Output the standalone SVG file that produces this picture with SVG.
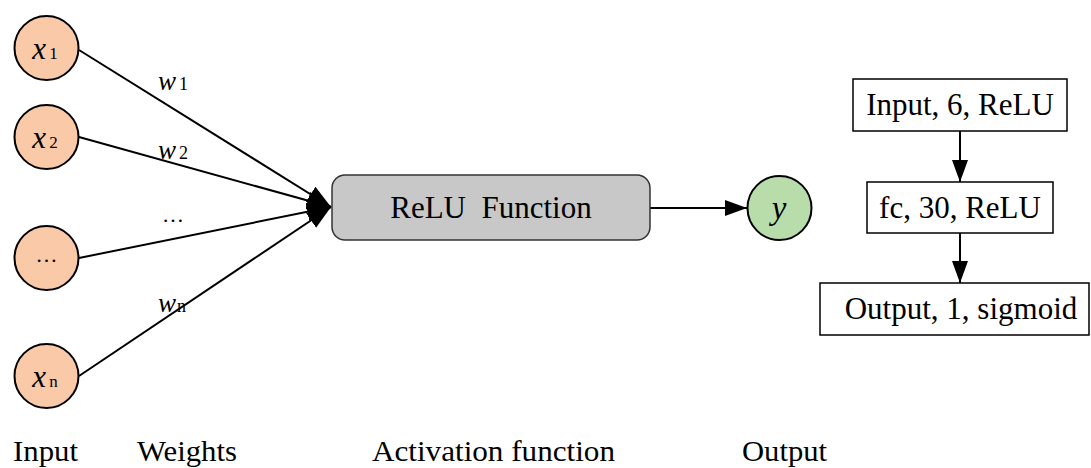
<svg xmlns="http://www.w3.org/2000/svg" width="1091" height="468" viewBox="0 0 1091 468">
<style>
.in{fill:#f9c9a8;stroke:#000;stroke-width:2}
.out{fill:#b8dcaa;stroke:#000;stroke-width:2}
.box{fill:#fff;stroke:#000;stroke-width:1.5}
.t{font-family:"Liberation Serif","Times New Roman",serif;fill:#000}
.it{font-style:italic}
.ln{stroke:#000;stroke-width:2;fill:none}
</style>
<defs>
<marker id="big" viewBox="0 0 10 10" refX="10" refY="5" markerWidth="24" markerHeight="18" markerUnits="userSpaceOnUse" orient="auto" preserveAspectRatio="none">
<path d="M0,0 L10,5 L0,10 Z" fill="#000"/>
</marker>
<marker id="sm" viewBox="0 0 10 10" refX="10" refY="5" markerWidth="22" markerHeight="16" markerUnits="userSpaceOnUse" orient="auto" preserveAspectRatio="none">
<path d="M0,0 L10,5 L0,10 Z" fill="#000"/>
</marker>
</defs>
<g id="connectors">
<line class="ln" x1="79" y1="50" x2="331" y2="207" marker-end="url(#big)"/>
<line class="ln" x1="79" y1="137" x2="331" y2="207" marker-end="url(#big)"/>
<line class="ln" x1="79" y1="258" x2="331" y2="207" marker-end="url(#big)"/>
<line class="ln" x1="79" y1="376" x2="331" y2="207" marker-end="url(#big)"/>
<line class="ln" x1="650" y1="208" x2="747" y2="208" marker-end="url(#sm)"/>
<line class="ln" x1="960" y1="131" x2="960" y2="182" marker-end="url(#sm)"/>
<line class="ln" x1="960" y1="233" x2="960" y2="283" marker-end="url(#sm)"/>
</g>
<g id="x1">
<circle class="in" cx="46.5" cy="48" r="32"/>
<text class="t" x="45" y="59" text-anchor="middle"><tspan class="it" font-size="31">x</tspan><tspan font-size="17" dx="3">1</tspan></text>
</g>
<g id="x2">
<circle class="in" cx="46.5" cy="137" r="32"/>
<text class="t" x="45" y="148" text-anchor="middle"><tspan class="it" font-size="31">x</tspan><tspan font-size="17" dx="3">2</tspan></text>
</g>
<g id="xdots">
<circle class="in" cx="46.5" cy="258" r="32"/>
<text class="t" x="46.5" y="262" text-anchor="middle" font-size="22">…</text>
</g>
<g id="xn">
<circle class="in" cx="46.5" cy="376" r="32"/>
<text class="t" x="45" y="387" text-anchor="middle"><tspan class="it" font-size="31">x</tspan><tspan font-size="17" dx="3">n</tspan></text>
</g>
<g id="weights">
<text class="t" x="158" y="90"><tspan class="it" font-size="27">w</tspan><tspan font-size="18" dx="3">1</tspan></text>
<text class="t" x="158" y="159"><tspan class="it" font-size="27">w</tspan><tspan font-size="18" dx="3">2</tspan></text>
<text class="t" x="162" y="222" font-size="22">…</text>
<text class="t" x="158" y="312"><tspan class="it" font-size="27">w</tspan><tspan font-size="18" dx="1">n</tspan></text>
</g>
<g id="relu">
<rect x="332" y="175" width="318" height="65" rx="13" fill="#c8c8c8" stroke="#333" stroke-width="1.5"/>
<text class="t" x="491" y="218" text-anchor="middle" font-size="31" xml:space="preserve">ReLU  Function</text>
</g>
<g id="y">
<circle class="out" cx="779.5" cy="208" r="32"/>
<text class="t it" x="779" y="219" text-anchor="middle" font-size="33">y</text>
</g>
<g id="layer1">
<rect class="box" x="853" y="79" width="214" height="52"/>
<text class="t" x="960" y="115" text-anchor="middle" font-size="31">Input, 6, ReLU</text>
</g>
<g id="layer2">
<rect class="box" x="867" y="182" width="186" height="51"/>
<text class="t" x="960" y="218" text-anchor="middle" font-size="31">fc, 30, ReLU</text>
</g>
<g id="layer3">
<rect class="box" x="820" y="283" width="269" height="52"/>
<text class="t" x="961" y="319" text-anchor="middle" font-size="31">Output, 1, sigmoid</text>
</g>
<g id="labels">
<text class="t" x="13" y="461" font-size="30" textLength="65" lengthAdjust="spacingAndGlyphs">Input</text>
<text class="t" x="137" y="461" font-size="30" textLength="100" lengthAdjust="spacingAndGlyphs">Weights</text>
<text class="t" x="372" y="461" font-size="30" textLength="243" lengthAdjust="spacingAndGlyphs">Activation function</text>
<text class="t" x="742" y="461" font-size="30" textLength="85" lengthAdjust="spacingAndGlyphs">Output</text>
</g>
</svg>
